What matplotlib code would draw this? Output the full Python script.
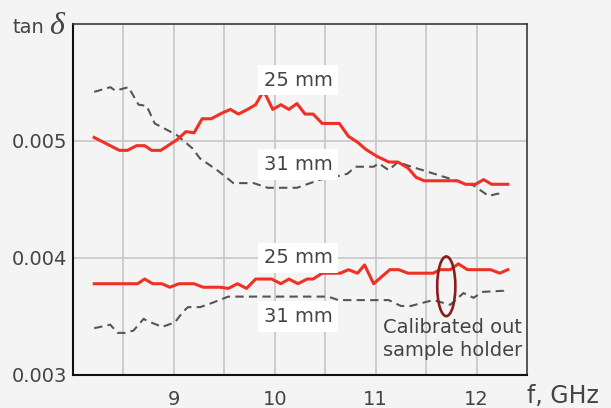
import matplotlib
matplotlib.use("Agg")
import matplotlib.pyplot as plt
from matplotlib.patches import Ellipse

# --- data (f in GHz, tan delta) ---
f_25_upper = [8.21, 8.46, 8.54, 8.63, 8.71, 8.78, 8.87, 9.03, 9.12, 9.20, 9.28, 9.37,
              9.48, 9.56, 9.64, 9.73, 9.81, 9.89, 9.98, 10.06, 10.14, 10.22, 10.30,
              10.38, 10.47, 10.64, 10.73, 10.82, 10.90, 11.01, 11.13, 11.22, 11.32,
              11.40, 11.48, 11.81, 11.89, 11.99, 12.07, 12.15, 12.31]
tan_25_upper = [0.00503, 0.00492, 0.00492, 0.00496, 0.00496, 0.00492, 0.00492, 0.00501,
                0.00508, 0.00507, 0.00519, 0.00519, 0.00524, 0.00527, 0.00523, 0.00527,
                0.00531, 0.00543, 0.00527, 0.00531, 0.00527, 0.00532, 0.00523, 0.00523,
                0.00515, 0.00515, 0.00504, 0.00499, 0.00493, 0.00487, 0.00482, 0.00482,
                0.00477, 0.00469, 0.00466, 0.00466, 0.00463, 0.00463, 0.00467, 0.00463,
                0.00463]

f_31_upper = [8.21, 8.37, 8.42, 8.55, 8.65, 8.73, 8.81, 9.03, 9.18, 9.26, 9.43, 9.59,
              9.79, 9.93, 10.22, 10.45, 10.58, 10.72, 10.80, 10.98, 11.03, 11.13, 11.22,
              11.32, 11.43, 11.58, 11.69, 11.84, 11.97, 12.12, 12.21, 12.26]
tan_31_upper = [0.00542, 0.00546, 0.00543, 0.00546, 0.00531, 0.00530, 0.00515, 0.00505,
                0.00494, 0.00485, 0.00475, 0.00464, 0.00464, 0.00460, 0.00460, 0.00467,
                0.00469, 0.00472, 0.00478, 0.00478, 0.00481, 0.00475, 0.00482, 0.00479,
                0.00476, 0.00472, 0.00469, 0.00465, 0.00462, 0.00453, 0.00455, 0.00454]

f_25_lower = [8.21, 8.64, 8.71, 8.79, 8.88, 8.96, 9.05, 9.20, 9.29, 9.46, 9.54, 9.63,
              9.72, 9.81, 9.97, 10.06, 10.14, 10.23, 10.32, 10.38, 10.47, 10.65, 10.73,
              10.82, 10.89, 10.98, 11.14, 11.23, 11.32, 11.57, 11.64, 11.74, 11.82,
              11.91, 12.14, 12.23, 12.31]
tan_25_lower = [0.00378, 0.00378, 0.00382, 0.00378, 0.00378, 0.00375, 0.00378, 0.00378,
                0.00375, 0.00375, 0.00374, 0.00378, 0.00374, 0.00382, 0.00382, 0.00378,
                0.00382, 0.00378, 0.00382, 0.00382, 0.00387, 0.00387, 0.00390, 0.00387,
                0.00394, 0.00378, 0.00390, 0.00390, 0.00387, 0.00387, 0.00390, 0.00390,
                0.00395, 0.00390, 0.00390, 0.00387, 0.00390]

f_31_lower = [8.21, 8.37, 8.44, 8.52, 8.60, 8.70, 8.74, 8.83, 8.88, 9.01, 9.09, 9.14,
              9.26, 9.36, 9.48, 9.54, 10.53, 10.63, 11.13, 11.25, 11.35, 11.48, 11.57,
              11.74, 11.87, 11.97, 12.06, 12.27, 12.31]
tan_31_lower = [0.00340, 0.00343, 0.00336, 0.00336, 0.00338, 0.00348, 0.00346, 0.00343,
                0.00341, 0.00345, 0.00354, 0.00358, 0.00358, 0.00361, 0.00365, 0.00367,
                0.00367, 0.00364, 0.00364, 0.00359, 0.00359, 0.00362, 0.00364, 0.00360,
                0.00370, 0.00366, 0.00371, 0.00372, 0.00375]

x_ticks = [9, 10, 11, 12]
y_ticks = [0.003, 0.004, 0.005]
y_tick_labels = ["0.003", "0.004", "0.005"]

BG = "#f4f4f4"
RED = "#ee3124"
GRAY = "#555555"
TXT = "#444444"

fig = plt.figure(figsize=(6.11, 4.08), dpi=100, facecolor=BG)
ax = fig.add_axes([0.1195, 0.0809, 0.743, 0.8603], facecolor=BG)

dash = (0, (4, 2.5))
ax.plot(f_31_upper, tan_31_upper, color=GRAY, lw=1.5, linestyle=dash, zorder=3)
ax.plot(f_25_upper, tan_25_upper, color=RED, lw=2.2, zorder=4)
ax.plot(f_31_lower, tan_31_lower, color=GRAY, lw=1.5, linestyle=dash, zorder=3)
ax.plot(f_25_lower, tan_25_lower, color=RED, lw=2.2, zorder=4)

ax.set_xlim(8, 12.5)
ax.set_ylim(0.003, 0.006)
ax.set_xticks(x_ticks)
ax.set_xticks([8.5, 9.5, 10.5, 11.5], minor=True)
ax.set_yticks(y_ticks)
ax.set_yticklabels(y_tick_labels)
ax.tick_params(axis="both", which="both", length=0, labelsize=14, labelcolor=TXT)
ax.tick_params(axis="x", pad=11)
ax.tick_params(axis="y", pad=4)
ax.grid(True, which="both", color="#c6c6c6", lw=1.2, zorder=0)
ax.set_axisbelow(True)

for side in ["left", "bottom"]:
    ax.spines[side].set_color("#111111")
    ax.spines[side].set_linewidth(1.5)
for side in ["top", "right"]:
    ax.spines[side].set_color("#3a3a3a")
    ax.spines[side].set_linewidth(1.2)

box = dict(facecolor="white", edgecolor="none", boxstyle="square,pad=0.3")
ax.text(9.89, 0.00552, "25 mm", fontsize=14, color=TXT, va="center", bbox=box, zorder=5)
ax.text(9.89, 0.00480, "31 mm", fontsize=14, color=TXT, va="center", bbox=box, zorder=5)
ax.text(9.89, 0.00400, "25 mm", fontsize=14, color=TXT, va="center", bbox=box, zorder=5)
ax.text(9.89, 0.00350, "31 mm", fontsize=14, color=TXT, va="center", bbox=box, zorder=5)

ax.add_patch(Ellipse((11.70, 0.003758), 0.18, 0.00051, fill=False,
                     edgecolor="#8a1c1c", lw=1.9, zorder=6))
ax.text(12.45, 0.00331, "Calibrated out\nsample holder", fontsize=14, color=TXT,
        ha="right", va="center", linespacing=1.25, zorder=5)

fig.text(0.021, 0.919, "tan", fontsize=14, color=TXT, va="baseline")
fig.text(0.080, 0.917, "δ", fontsize=23, color=TXT, va="baseline",
         family="Liberation Serif", style="italic")
fig.text(0.8625, 0.012, "f, GHz", fontsize=17, color=TXT, va="baseline")

fig.savefig("out.png", dpi=100, facecolor=BG)
